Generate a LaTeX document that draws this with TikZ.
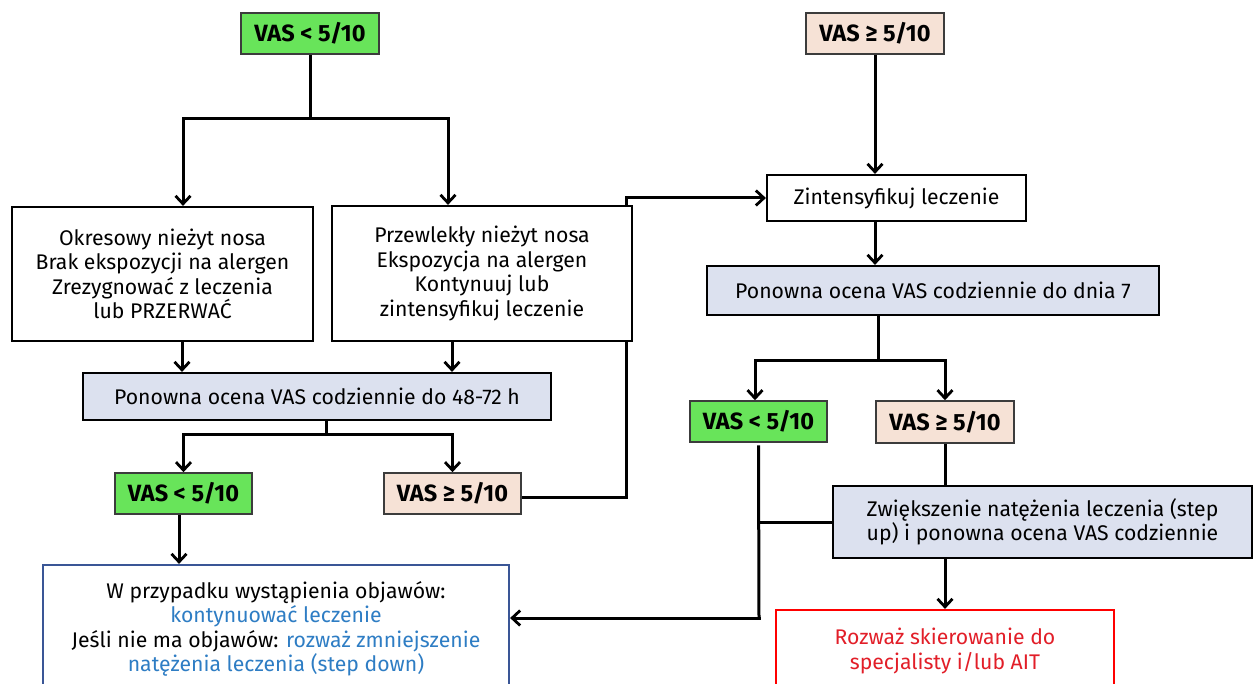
\documentclass[tikz,border=0pt]{standalone}
\usepackage{fontspec}
\setmainfont{Fira Sans}
\usetikzlibrary{arrows.meta,backgrounds}
\definecolor{vgreen}{RGB}{104,228,90}
\definecolor{vpeach}{RGB}{246,226,214}
\definecolor{vgray}{RGB}{220,225,239}
\definecolor{tblue}{RGB}{46,125,196}
\definecolor{tred}{RGB}{226,30,40}
\definecolor{bblue}{RGB}{58,86,150}
\definecolor{edgegray}{RGB}{60,60,60}
\tikzset{
  box/.style={draw=black,line width=2.2pt,fill=white,inner sep=0pt,align=center,
    font=\fontsize{21.2}{24.5}\selectfont},
  vasgood/.style={box,fill=vgreen,draw=edgegray,line width=1.6pt,minimum width=138pt,minimum height=41pt,
    font=\fontsize{23.5}{26}\selectfont\bfseries},
  vasbad/.style={vasgood,fill=vpeach},
  evalbox/.style={box,fill=vgray},
  conn/.style={line width=3pt,line cap=rect},
  arr/.style={conn,-{Straight Barb[length=8pt,width=15pt,line width=2.8pt]}}
}
\begin{document}
\begin{tikzpicture}[x=1pt,y=-1pt]
\clip (0,0) rectangle (1256,684);
% top row
\node[vasgood] (t1) at (310,33.5) {VAS < 5/10};
\node[vasbad] (t2) at (875,33.5) {VAS ≥ 5/10};
% first boxes
\node[box,minimum width=301pt,minimum height=134pt] (b1) at (162.5,274)
  {Okresowy nieżyt nosa\\Brak ekspozycji na alergen\\Zrezygnować z leczenia\\lub PRZERWAĆ};
\node[box,minimum width=300pt,minimum height=135pt] (b2) at (482,273.5)
  {Przewlekły nieżyt nosa\\Ekspozycja na alergen\\Kontynuuj lub\\zintensyfikuj leczenie};
\node[box,minimum width=259pt,minimum height=46pt] (zint) at (896.5,198) {Zintensyfikuj leczenie};
\node[evalbox,minimum width=452pt,minimum height=49pt] (p7) at (933,290.5) {Ponowna ocena VAS codziennie do dnia 7};
\node[evalbox,minimum width=468pt,minimum height=47pt] (p48) at (317,396.5) {Ponowna ocena VAS codziennie do 48-72 h};
% second VAS row
\node[vasgood,minimum width=137pt] (g2) at (183.5,493.5) {VAS < 5/10};
\node[vasbad,minimum width=137pt] (r2) at (452.5,493.5) {VAS ≥ 5/10};
\node[vasgood,minimum width=137pt] (g3) at (758.5,421.5) {VAS < 5/10};
\node[vasbad,minimum height=42pt] (r3) at (945,422) {VAS ≥ 5/10};
\node[evalbox,minimum width=419pt,minimum height=72pt] (zw) at (1042.5,522)
  {Zwiększenie natężenia leczenia (step\\up) i ponowna ocena VAS codziennie};
% final boxes
\node[box,draw=bblue,minimum width=466pt,minimum height=128pt] (blue) at (276,629)
  {W przypadku wystąpienia objawów:\\{\color{tblue}kontynuować leczenie}\\Jeśli nie ma objawów: {\color{tblue}rozważ zmniejszenie}\\{\color{tblue}natężenia leczenia (step down)}};
\node[box,draw=red,text=tred,minimum width=338pt,minimum height=82pt] (redb) at (945,651)
  {Rozważ skierowanie do\\specjalisty i/lub AIT};
% junctions
\coordinate (j1) at (310,119);
\coordinate (j2) at (326,435);
\coordinate (j3) at (626,497);
\coordinate (j4) at (878,361);
\coordinate (j5) at (759,618);
\begin{scope}[on background layer]
\fill[white] (0,0) rectangle (1256,684);
\draw[conn] (t1.south) -- (j1);
\draw[arr] (j1) -| ([xshift=20.5pt]b1.north);
\draw[arr] (j1) -| ([xshift=-34pt]b2.north);
\draw[arr] ([xshift=19.5pt]b1.south) -- ([xshift=19.5pt]b1.south |- p48.north);
\draw[arr] ([xshift=-30pt]b2.south) -- ([xshift=-30pt]b2.south |- p48.north);
\draw[conn] ([xshift=9pt]p48.south) -- (j2);
\draw[arr] (j2) -| (g2.north);
\draw[arr] (j2) -| (r2.north);
\draw[arr] ([xshift=-4.5pt]g2.south) -- ([xshift=-4.5pt]g2.south |- blue.north);
\draw[arr] (r2.east |- j3) -- (j3) |- (zint.west);
\draw[arr] (t2.south) -- (t2.south |- zint.north);
\draw[arr] (t2.south |- zint.south) -- (t2.south |- p7.north);
\draw[conn] (j4 |- p7.south) -- (j4);
\draw[arr] (j4) -| ([xshift=-3.5pt]g3.north);
\draw[arr] (j4) -| (r3.north);
\draw[conn] ([yshift=-4pt]g3.south) -- (j5);
\draw[arr] (j5) -- (j5 -| blue.east);
\draw[conn] (zw.west) -- (zw.west -| j5);
\draw[conn] (r3.south) -- (r3.south |- zw.north);
\draw[arr] (r3.south |- zw.south) -- (r3.south |- redb.north);
\end{scope}
\end{tikzpicture}
\end{document}
